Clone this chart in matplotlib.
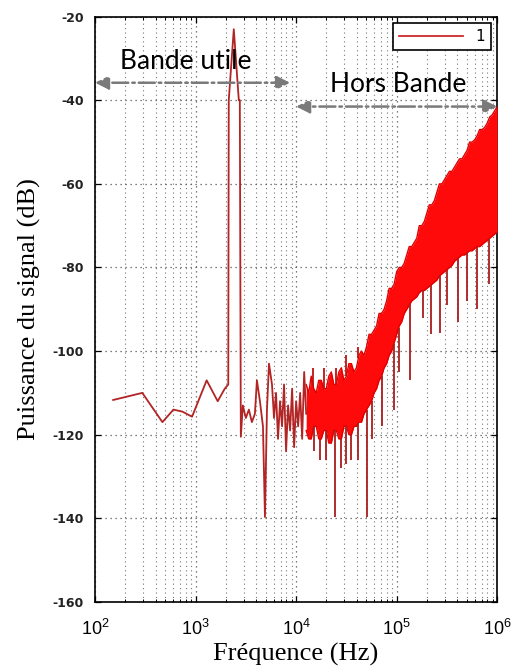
import matplotlib
matplotlib.use("Agg")
import matplotlib.pyplot as plt
from matplotlib.ticker import LogLocator, NullFormatter
import numpy as np

# ---- data (log10 frequency, dB) ----
# low frequency part + tone + transition (single trace)
line_lf = [2.18, 2.30, 2.47, 2.67, 2.78, 2.87, 2.965, 3.11, 3.22, 3.29, 3.325,
           3.33, 3.38, 3.43, 3.44, 3.45, 3.47, 3.50, 3.53, 3.56, 3.59, 3.61,
           3.64, 3.67, 3.69, 3.71, 3.73, 3.76, 3.78, 3.80, 3.82, 3.84, 3.86,
           3.88, 3.90, 3.92, 3.94, 3.96, 3.98, 4.00, 4.02, 4.04, 4.06, 4.08, 4.10]
line_db = [-111.7, -111.0, -110.0, -117.0, -114.0, -114.5, -115.7, -107.0, -112.0, -109.0, -108.0,
           -40.0, -23.0, -40.0, -40.0, -120.5, -113.0, -116.0, -114.0, -117.0, -115.0, -107.0,
           -112.0, -118.0, -139.7, -114.0, -103.0, -108.0, -116.0, -110.0, -121.0, -112.0, -118.0,
           -108.0, -124.0, -113.0, -119.0, -109.0, -123.0, -112.0, -118.0, -110.0, -121.0, -105.0, -115.0]

# out-of-band noise: jagged envelope of the dense oscillation
band_lf = [4.10, 4.125, 4.15, 4.175, 4.20, 4.225, 4.25, 4.275, 4.30, 4.325, 4.35, 4.375,
           4.40, 4.425, 4.45, 4.475, 4.50, 4.525, 4.55, 4.575, 4.60, 4.625, 4.65, 4.675,
           4.70, 4.725, 4.75, 4.775, 4.80, 4.825, 4.85, 4.875, 4.90, 4.925, 4.95, 4.975,
           5.00, 5.025, 5.05, 5.075, 5.10, 5.125, 5.15, 5.175, 5.20, 5.225, 5.25, 5.275,
           5.30, 5.325, 5.35, 5.375, 5.40, 5.425, 5.45, 5.475, 5.50, 5.525, 5.55, 5.575,
           5.60, 5.625, 5.65, 5.675, 5.70, 5.725, 5.75, 5.775, 5.80, 5.825, 5.85, 5.875,
           5.90, 5.925, 5.95, 5.975, 6.00]
band_top = [-108, -110, -106, -109, -110, -107, -107, -109, -109, -106, -105, -108,
            -108, -105, -104, -107, -106, -103, -103, -105, -104, -101, -100, -101,
            -99, -96, -96, -95, -94, -91, -91, -90, -88, -85, -85, -84, -81, -80,
            -80, -79, -77, -75, -75, -74, -73, -70, -70, -69, -67, -65, -65, -64,
            -62, -60, -60, -59, -58, -57, -57, -56, -55, -54, -54, -53, -52, -50,
            -50, -49.5, -48.5, -47, -47, -46.5, -45.5, -44, -43.5, -42.5, -41.5]
band_bot = [-119, -121, -121, -118, -118, -121, -121, -119, -119, -122, -122, -119,
            -119, -121, -121, -118, -118, -120, -120, -118, -118, -117, -117, -115,
            -114, -113, -112, -110, -109, -107, -106, -104, -103, -101, -100, -98,
            -96, -94, -93, -91, -90, -89, -88, -87.5, -87, -86, -85.5, -85.5, -85,
            -84.5, -84, -83.5, -83, -82, -81.5, -81, -80.5, -80, -79.5, -78.5, -78,
            -77.5, -77, -77, -76.5, -76, -76, -75.5, -75, -75, -74.5, -74, -73.5,
            -73, -72.5, -72, -71.5]

# isolated downward spikes below the band
spike_lf = [4.18, 4.24, 4.30, 4.39, 4.45, 4.50, 4.55, 4.62, 4.70, 4.75, 4.85, 4.97,
            5.02, 5.13, 5.26, 5.34, 5.43, 5.50, 5.61, 5.70, 5.80, 5.92]
spike_db = [-124, -126, -126, -139.6, -128, -127, -126, -126, -139.6, -121, -118, -114,
            -105, -107, -92, -96, -95.7, -89, -93, -88, -90, -84]
# upward spikes above the band
peak_lf = [4.17, 4.28, 4.40, 4.50, 4.62]
peak_db = [-104, -104, -104, -101, -99]

yticks = [-20, -40, -60, -80, -100, -120, -140, -160]
xticks = [1e2, 1e3, 1e4, 1e5, 1e6]
xticklabels = [r"$10^{2}$", r"$10^{3}$", r"$10^{4}$", r"$10^{5}$", r"$10^{6}$"]

plt.rcParams["mathtext.fontset"] = "custom"
plt.rcParams["mathtext.rm"] = "Liberation Sans"
plt.rcParams["mathtext.it"] = "Liberation Sans"

fig = plt.figure(figsize=(5.11, 6.68), dpi=100)
ax = fig.add_axes([0.186, 0.099, 0.787, 0.876])

f_line = 10 ** np.array(line_lf)
f_band = 10 ** np.array(band_lf)

ax.fill_between(f_band, band_bot, band_top, color="#ff0a0a", lw=0, zorder=3)
ax.plot(f_band, band_top, color="#e00000", lw=1.0, zorder=3)
ax.plot(f_band, band_bot, color="#e00000", lw=1.0, zorder=3)
bot_at = np.interp(spike_lf, band_lf, band_bot)
ax.vlines(10 ** np.array(spike_lf), spike_db, bot_at, color="#a81c1c", lw=1.3, zorder=4)
top_at = np.interp(peak_lf, band_lf, band_top)
ax.vlines(10 ** np.array(peak_lf), top_at, peak_db, color="#c01010", lw=1.3, zorder=4)
l1, = ax.plot(f_line, line_db, color="#b32424", lw=1.3, zorder=4)

ax.set_xscale("log")
ax.set_xlim(1e2, 1e6)
ax.set_ylim(-160, -20)
ax.set_yticks(yticks)
ax.set_yticklabels([str(v) for v in yticks], fontfamily="DejaVu Sans",
                   fontweight="bold", fontsize=9, color="#222222")
ax.set_xticks(xticks)
ax.set_xticklabels(xticklabels, fontsize=13)
ax.xaxis.set_minor_locator(LogLocator(base=10, subs=np.arange(2, 10), numticks=20))
ax.xaxis.set_minor_formatter(NullFormatter())
ax.tick_params(which="both", direction="in", top=True, right=True)
ax.tick_params(which="major", length=4, width=0.9)
ax.tick_params(which="minor", length=2.5, width=0.7)
ax.tick_params(axis="x", pad=12)
ax.tick_params(axis="y", pad=8)
for s in ax.spines.values():
    s.set_linewidth(1.2)

ax.grid(which="major", axis="both", linestyle=(0, (1, 3)), color="#555555", lw=0.9)
ax.grid(which="minor", axis="x", linestyle=(0, (1, 3)), color="#777777", lw=0.8)

ax.set_xlabel("Fréquence (Hz)", fontfamily="Liberation Serif", fontsize=19, labelpad=3)
ax.set_ylabel("Puissance du signal (dB)", fontfamily="Liberation Serif", fontsize=19, labelpad=8)

leg = ax.legend([l1], ["1"], loc="upper right", fancybox=False, edgecolor="black",
                framealpha=1, handlelength=4.2, fontsize=11, borderaxespad=0.4)
leg.get_frame().set_linewidth(1.2)
leg.get_lines()[0].set_color("#cc2a2a")

arrow_kw = dict(arrowstyle="<|-|>", color="#7a7a7a", lw=1.8, linestyle="-.",
                mutation_scale=20, shrinkA=0, shrinkB=0)
ax.annotate("", xy=(1e2, -35.8), xytext=(10 ** 3.94, -35.8), arrowprops=arrow_kw, zorder=6)
ax.annotate("", xy=(1e4, -41.5), xytext=(1e6, -41.5), arrowprops=arrow_kw, zorder=6)
ax.text(10 ** 2.25, -30.8, "Bande utile", fontfamily="Lato", fontsize=19, va="center", zorder=6)
ax.text(10 ** 4.34, -36.3, "Hors Bande", fontfamily="Lato", fontsize=19, va="center", zorder=6)

fig.savefig("out.png", dpi=100)
